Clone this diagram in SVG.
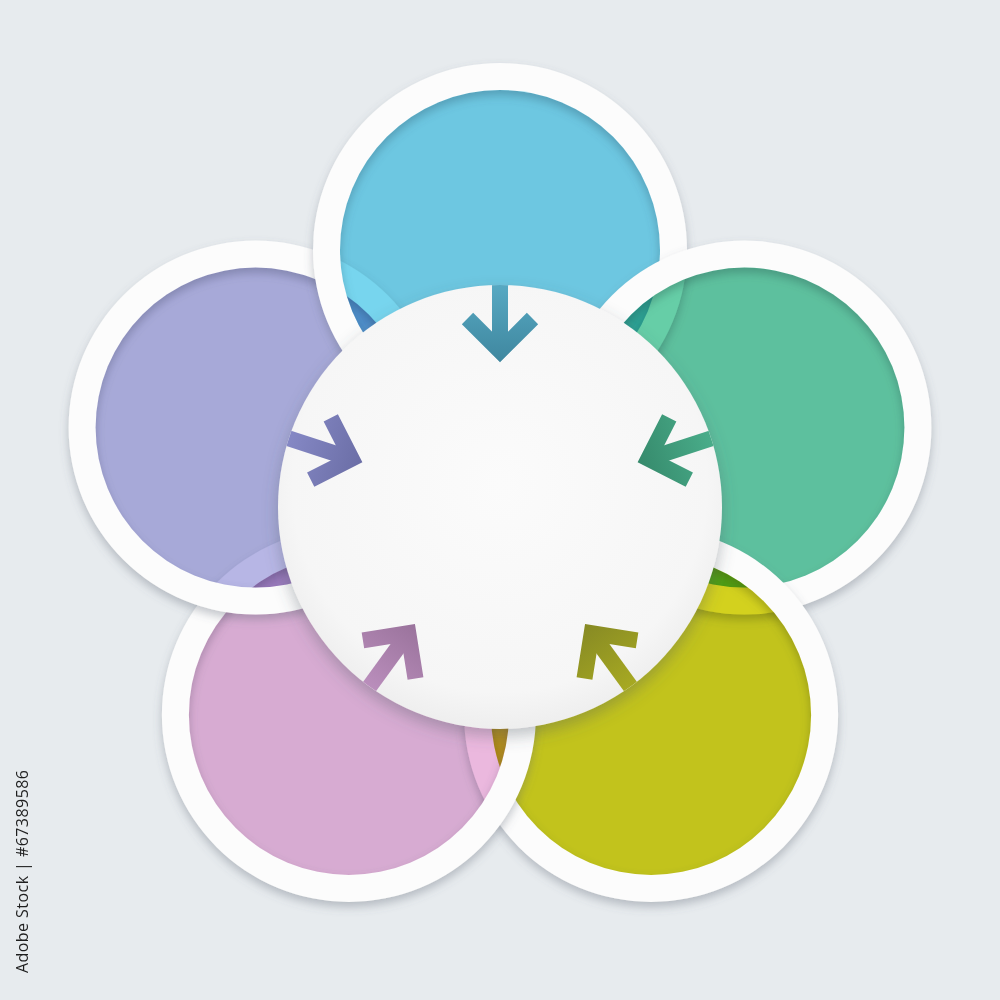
<svg xmlns="http://www.w3.org/2000/svg" width="1000" height="1000" viewBox="0 0 1000 1000">
<style>
  .ring { fill:#fcfcfc; fill-rule:evenodd; }
  .fill { mix-blend-mode:multiply; }
  .arr { fill:none; stroke-width:16; stroke-linejoin:miter; stroke-linecap:butt; }
  .bg { fill:#e7ebee; }
</style>
<defs>
  <filter id="ds" x="-20%" y="-20%" width="140%" height="140%">
    <feDropShadow dx="0" dy="5" stdDeviation="5" flood-color="#5c6672" flood-opacity="0.36"/>
  </filter>
  <filter id="dsc" x="-20%" y="-20%" width="140%" height="140%">
    <feDropShadow dx="0" dy="7" stdDeviation="8" flood-color="#4c5560" flood-opacity="0.35"/>
  </filter>
  <path id="ringShape" d="M-187 0a187 187 0 1 0 374 0a187 187 0 1 0 -374 0ZM-160 0a160 160 0 1 0 320 0a160 160 0 1 0 -320 0Z"/>
  <radialGradient id="gc" cx="0.5" cy="0.45" r="0.55">
    <stop offset="0" stop-color="#fbfbfb"/>
    <stop offset="0.85" stop-color="#f6f6f6"/>
    <stop offset="1" stop-color="#eeeeee"/>
  </radialGradient>
  <clipPath id="clipPurple"><circle cx="255.6" cy="427.6" r="197"/></clipPath>
  <clipPath id="clipBlue"><circle cx="500" cy="250" r="197"/></clipPath>
  <clipPath id="clipCenter"><circle cx="500" cy="507" r="222"/></clipPath>
  <linearGradient id="aBlue" gradientUnits="userSpaceOnUse" x1="0" y1="-225" x2="0" y2="-145">
    <stop offset="0" stop-color="#58aac4"/><stop offset="1" stop-color="#3f879f"/>
  </linearGradient>
  <linearGradient id="aGreen" gradientUnits="userSpaceOnUse" x1="0" y1="-225" x2="0" y2="-145">
    <stop offset="0" stop-color="#4aae8b"/><stop offset="1" stop-color="#368a6c"/>
  </linearGradient>
  <linearGradient id="aYellow" gradientUnits="userSpaceOnUse" x1="0" y1="-225" x2="0" y2="-145">
    <stop offset="0" stop-color="#a8aa22"/><stop offset="1" stop-color="#878a24"/>
  </linearGradient>
  <linearGradient id="aPink" gradientUnits="userSpaceOnUse" x1="0" y1="-225" x2="0" y2="-145">
    <stop offset="0" stop-color="#bb8fbd"/><stop offset="1" stop-color="#9a739c"/>
  </linearGradient>
  <linearGradient id="aPurple" gradientUnits="userSpaceOnUse" x1="0" y1="-225" x2="0" y2="-145">
    <stop offset="0" stop-color="#8689c6"/><stop offset="1" stop-color="#6b6ea6"/>
  </linearGradient>
</defs>

<rect class="bg" x="0" y="0" width="1000" height="1000"/>

<g id="node-blue" transform="translate(500,250)">
  <use href="#ringShape" class="ring" filter="url(#ds)"/>
  <circle r="160" class="fill" fill="#78d8f1"/>
</g>
<g id="node-green" transform="translate(744.4,427.6)">
  <use href="#ringShape" class="ring" filter="url(#ds)"/>
  <circle r="160" class="fill" fill="#67d1a9"/>
</g>
<g id="node-yellow" transform="translate(651.1,714.9)">
  <use href="#ringShape" class="ring" filter="url(#ds)"/>
  <circle r="160" class="fill" fill="#d6d41e"/>
</g>
<g id="node-pink" transform="translate(348.9,714.9)">
  <use href="#ringShape" class="ring" filter="url(#ds)"/>
  <circle r="160" class="fill" fill="#eebae1"/>
</g>
<g id="node-purple" transform="translate(255.6,427.6)">
  <use href="#ringShape" class="ring" filter="url(#ds)"/>
  <circle r="160" class="fill" fill="#b9b8e8"/>
</g>

<g id="overlap-blue-purple" clip-path="url(#clipPurple)">
  <g clip-path="url(#clipBlue)">
    <rect class="bg" x="0" y="0" width="1000" height="1000"/>
    <g transform="translate(255.6,427.6)">
      <use href="#ringShape" class="ring" filter="url(#ds)"/>
      <circle r="160" class="fill" fill="#b9b8e8"/>
    </g>
    <g transform="translate(500,250)">
      <use href="#ringShape" class="ring" filter="url(#ds)"/>
      <circle r="160" class="fill" fill="#78d8f1"/>
    </g>
  </g>
</g>

<g id="node-center">
  <circle cx="500" cy="507" r="222" fill="url(#gc)" filter="url(#dsc)"/>
</g>

<g id="connectors" clip-path="url(#clipCenter)">
  <g id="arrow-blue" transform="translate(500,507) rotate(0)" class="arr" stroke="url(#aBlue)">
    <path d="M0 -240V-160"/><path d="M-32.5 -188.5L0 -156L32.5 -188.5"/>
  </g>
  <g id="arrow-green" transform="translate(500,507) rotate(72)" class="arr" stroke="url(#aGreen)">
    <path d="M0 -240V-160"/><path d="M-32.5 -188.5L0 -156L32.5 -188.5"/>
  </g>
  <g id="arrow-yellow" transform="translate(500,507) rotate(144)" class="arr" stroke="url(#aYellow)">
    <path d="M0 -240V-160"/><path d="M-32.5 -188.5L0 -156L32.5 -188.5"/>
  </g>
  <g id="arrow-pink" transform="translate(500,507) rotate(216)" class="arr" stroke="url(#aPink)">
    <path d="M0 -240V-160"/><path d="M-32.5 -188.5L0 -156L32.5 -188.5"/>
  </g>
  <g id="arrow-purple" transform="translate(500,507) rotate(288)" class="arr" stroke="url(#aPurple)">
    <path d="M0 -240V-160"/><path d="M-32.5 -188.5L0 -156L32.5 -188.5"/>
  </g>
</g>

<text transform="translate(28,973) rotate(-90)" font-family="'Open Sans', 'Liberation Sans', Arial, sans-serif" font-size="16" fill="#1e1e1e" textLength="203" lengthAdjust="spacing">Adobe Stock | #67389586</text>
</svg>
